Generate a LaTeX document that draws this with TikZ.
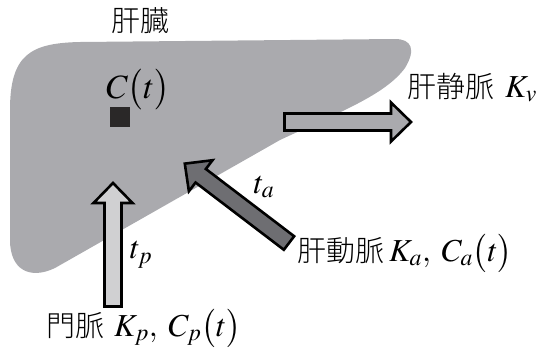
\documentclass[tikz,border=0pt]{standalone}
\usepackage{mathptmx}
\usepackage{fontspec}
\setmainfont{Liberation Serif}
\newfontfamily\cjk{Noto Sans CJK JP Light}
\usetikzlibrary{positioning}

\definecolor{livergray}{RGB}{170,170,174}
\definecolor{portalgray}{RGB}{208,208,210}
\definecolor{arterygray}{RGB}{110,110,114}
\definecolor{probegray}{RGB}{42,40,40}

\newcommand{\mathsize}{\fontsize{32}{34}\selectfont}

\tikzset{
  pics/fatarrow/.style 2 args={code={
    \filldraw[fill=#1, draw=black, line width=2.6pt, miter limit=10]
      (0,-8.5) -- ({#2-20},-8.5) -- ({#2-20},-19.5) -- (#2,0)
      -- ({#2-20},19.5) -- ({#2-20},8.5) -- (0,8.5) -- cycle;
  }},
}

\begin{document}
\begin{tikzpicture}[
  x=1pt, y=-1pt,
  jp/.style={font=\cjk\fontsize{29}{32}\selectfont},
  mth/.style={font=\mathsize},
  every node/.style={inner sep=0pt},
]
  \useasboundingbox (0,0) rectangle (540,354);

  % liver
  \fill[livergray] (10,110) .. controls (10,55) and (30,43) .. (80,42)
    -- (395,39) .. controls (412,39) and (416,50) .. (405,68)
    .. controls (385,95) and (340,112) .. (280,140)
    -- (55,268) .. controls (30,280) and (10,270) .. (10,240) -- cycle;

  \node[jp] (liver) at (140,21) {肝臓};
  \node[mth, font=\fontsize{34}{36}\selectfont, anchor=base west] (conc) at (106,98) {$C\bigl(t\bigr)$};
  \node[fill=probegray, minimum size=20pt] (probe) at (120,117) {};

  % vessels
  \coordinate (hvtail) at (284.5,122);
  \coordinate (hatail) at (289,243);
  \coordinate (pvtail) at (113,306.5);
  \pic at (hvtail) {fatarrow={livergray}{126.5}};
  \pic[rotate=142.7] at (hatail) {fatarrow={arterygray}{131}};
  \pic[rotate=90] at (pvtail) {fatarrow={portalgray}{123.5}};

  \node[jp, anchor=base west] (hv) at (407,97) {肝静脈\hspace{11pt}\mathsize$K_v$};
  \node[mth] (ta) at (264,187) {$t_a$};
  \node[jp, anchor=base west] (ha) at (297,261) {肝動脈\hspace{5pt}\mathsize$K_a,\;C_a\bigl(t\bigr)$};
  \node[mth] (tp) at (141,255) {$t_p$};
  \node[jp, anchor=base west] (pv) at (46,336) {門脈\hspace{10pt}\mathsize$K_p,\;C_p\bigl(t\bigr)$};
\end{tikzpicture}
\end{document}
